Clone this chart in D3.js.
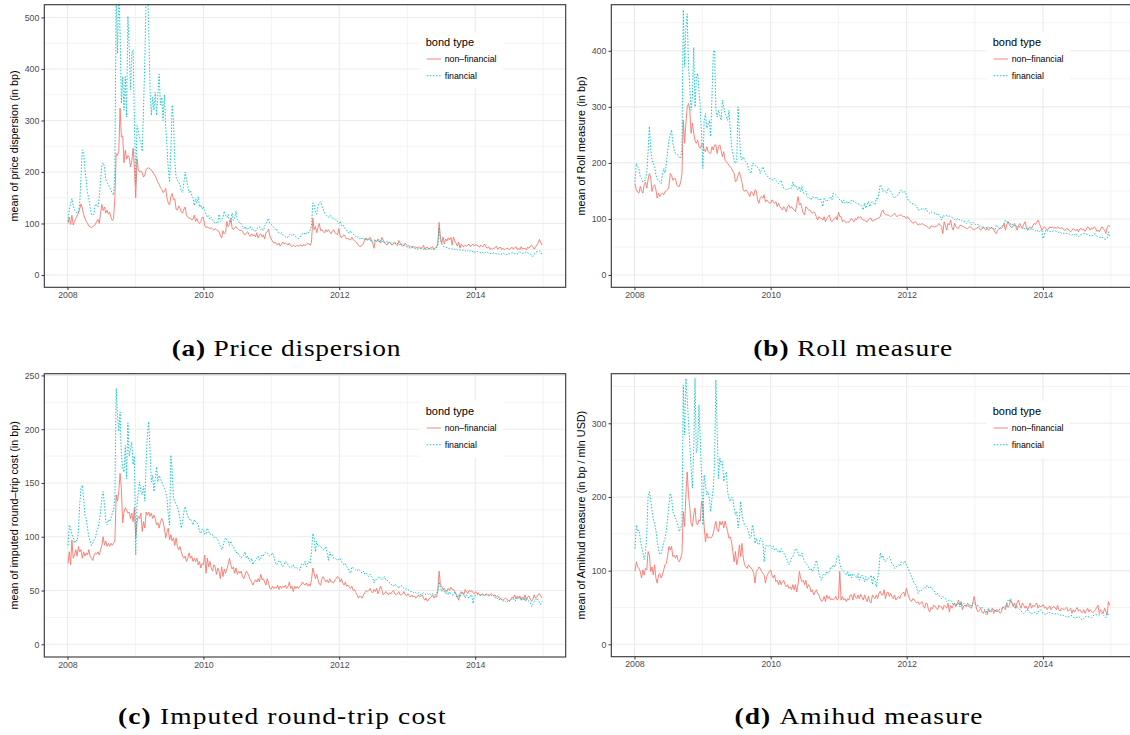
<!DOCTYPE html>
<html>
<head>
<meta charset="utf-8">
<script src="https://cdnjs.cloudflare.com/ajax/libs/d3/7.8.5/d3.min.js"></script>
<style>
  html, body { margin: 0; padding: 0; background: #ffffff; }
  svg { display: block; }
</style>
</head>
<body>
<svg id="chart" width="1130" height="735"></svg>
<script>
// ---------------------------------------------------------------------------
// Weekly liquidity measures of US corporate bonds, 2008-2014, by bond type.
// One value per week, starting with the week ending 4 January 2008.
// ---------------------------------------------------------------------------
const firstWeek = new Date(2008, 0, 4);
const bondTypes = ["non\u2013financial", "financial"];

// (a) price dispersion, bp
const priceDispNonFin = [
  100,112,98,116,97,104,110,115,120,128,138,130,118,110,104,100,95,93,92,94,96,98,104,108,100,120,137,125,132,120,126,118,122,112,106,110,150,236,232,240,324,268,270,218,242,225,232,228,210,222,246,208,
  150,226,204,200,202,198,190,194,205,207,208,206,204,200,196,192,186,180,176,170,166,160,162,168,150,140,136,152,158,146,148,128,126,134,130,122,120,128,132,116,112,110,110,107,108,116,104,110,102,100,104,112,
  112,96,92,94,91,90,92,89,87,90,88,86,84,76,72,86,80,82,104,94,98,110,92,88,92,94,90,88,86,87,85,80,78,82,84,78,75,80,76,78,74,82,72,78,80,74,78,70,82,84,89,76,
  70,66,62,64,60,58,62,56,60,64,60,62,60,58,62,57,55,58,56,55,58,56,58,58,56,60,57,59,62,60,58,64,110,88,94,82,92,100,86,88,84,82,88,84,88,84,80,85,88,82,80,78,
  90,76,72,76,78,74,70,71,69,68,73,69,66,64,62,58,55,56,58,62,70,72,68,70,73,66,62,52,68,65,70,66,62,73,68,62,60,58,64,63,60,58,61,63,59,57,67,62,58,56,58,62,
  58,56,57,54,55,56,53,55,52,54,54,52,53,58,50,53,54,50,52,53,55,50,52,55,60,102,72,61,74,60,70,66,72,68,73,58,74,66,62,56,64,52,60,56,55,58,56,58,60,55,58,60,
  56,59,58,56,54,58,55,56,60,54,52,55,50,52,50,52,53,56,50,53,54,49,52,49,50,52,51,49,52,54,50,53,55,49,52,49,55,50,52,51,49,54,52,56,58,55,50,54,58,62,69,64,58
];
const priceDispFin = [
  104,128,138,148,135,126,124,120,122,140,190,243,240,205,182,160,148,130,117,116,120,138,136,132,150,184,212,218,210,186,180,174,170,165,158,155,200,560,430,560,470,333,385,320,385,307,502,440,360,430,437,300,
  176,290,280,265,255,240,320,420,540,560,480,360,310,345,320,355,310,350,390,330,345,300,350,290,250,205,180,240,330,300,220,190,184,180,175,162,160,180,200,185,172,160,164,155,150,135,148,140,152,132,136,128,
  133,125,118,112,115,108,112,106,104,100,102,100,118,104,108,112,124,116,112,118,104,102,120,106,110,124,108,104,100,100,95,90,94,88,92,90,94,88,90,86,84,90,92,94,88,90,86,94,100,105,110,100,
  98,96,92,88,90,84,82,80,82,78,76,74,72,74,78,80,77,80,76,74,72,71,73,76,80,78,82,80,84,82,88,96,140,136,122,118,134,140,142,134,128,120,116,114,112,116,114,110,110,108,106,104,
  100,104,96,98,92,90,86,84,80,86,82,80,76,75,72,74,70,73,69,72,68,71,67,70,66,69,65,68,67,65,68,64,67,63,66,64,62,65,61,64,63,60,62,64,60,61,62,58,61,57,58,56,
  55,54,53,52,53,54,52,51,50,51,52,51,52,50,51,49,50,51,52,50,51,49,51,53,58,92,68,60,56,55,53,54,52,51,50,51,49,50,51,49,50,48,49,48,49,47,46,48,45,47,48,44,
  45,44,46,45,44,43,45,42,43,45,44,42,41,43,42,43,42,41,42,40,39,41,43,41,39,40,42,41,42,43,43,41,42,41,43,45,43,42,42,44,45,43,42,40,37,36,40,44,45,46,47,44,39
];

// (b) Roll measure, bp
const rollNonFin = [
  163,152,148,146,158,150,146,161,166,155,170,181,175,149,158,161,152,137,146,140,144,146,143,149,150,152,158,181,178,169,172,172,161,158,158,166,181,276,235,271,300,306,294,253,271,253,240,235,241,229,226,232,
  235,223,220,229,220,218,217,229,223,232,232,217,229,232,222,211,220,205,202,199,196,193,190,185,181,166,169,178,184,175,165,152,149,152,149,145,140,149,146,141,152,150,134,128,138,140,137,143,130,134,131,128,
  128,134,130,128,131,122,128,122,119,116,122,118,113,122,125,119,122,118,116,113,126,140,125,128,119,110,107,122,119,116,116,113,110,113,110,104,98,104,101,101,98,104,95,101,104,107,98,95,98,101,104,98,
  112,104,104,95,98,95,93,95,94,98,101,97,95,101,99,104,102,104,100,98,98,96,95,99,101,101,96,98,98,100,101,102,104,112,116,110,108,107,107,106,104,106,108,110,106,104,106,107,107,105,104,104,
  101,104,100,98,95,92,94,95,92,89,91,90,92,90,89,88,86,84,83,88,87,86,86,87,88,92,89,86,74,95,88,80,92,89,98,85,80,92,86,84,83,88,89,87,86,85,83,83,85,86,84,82,
  80,82,83,86,84,80,82,86,82,80,84,80,82,85,84,80,76,74,80,82,84,83,86,92,80,90,95,90,86,84,88,92,86,80,88,92,86,84,90,95,86,80,84,86,83,88,92,90,94,98,92,86,
  80,84,86,83,80,82,86,84,86,83,85,83,86,84,83,85,82,80,80,83,82,79,77,80,83,80,79,82,77,82,83,80,82,78,81,86,84,80,84,82,86,84,78,80,77,82,86,83,80,74,84,89,86
];
const rollFin = [
  166,199,193,190,175,172,166,168,169,180,220,265,225,205,199,195,178,172,168,166,163,180,190,182,199,220,240,250,259,235,223,217,217,212,210,208,225,473,372,440,466,372,336,294,318,406,300,350,360,330,300,250,
  190,276,288,262,268,276,247,318,398,401,294,282,294,285,276,312,300,288,282,276,294,260,230,215,205,199,205,300,253,211,205,211,205,202,199,190,184,181,199,199,196,193,192,190,181,188,193,187,181,178,175,172,
  172,170,169,172,169,166,163,166,169,160,155,155,152,152,155,155,155,166,158,161,155,152,158,149,158,146,146,149,140,137,137,134,140,137,137,140,136,134,137,131,122,137,134,131,134,137,140,134,146,146,143,140,
  137,134,134,128,134,128,131,127,131,128,134,132,131,129,128,127,126,125,122,116,128,119,125,131,122,128,131,128,125,137,134,146,161,158,149,152,150,146,155,152,149,145,140,137,140,142,143,149,152,148,146,149,
  143,136,132,130,128,127,126,125,122,116,116,117,118,119,116,119,114,112,110,113,111,111,110,107,110,106,104,98,106,105,106,106,104,105,104,103,101,99,98,100,101,98,96,98,96,95,92,96,97,93,89,94,
  92,90,89,91,87,88,85,86,83,85,84,86,83,84,85,83,80,89,86,83,84,86,89,92,98,96,92,95,89,90,91,88,86,87,85,86,84,83,85,81,83,80,82,83,80,82,81,79,81,78,77,80,
  79,65,72,80,78,80,78,77,78,79,79,78,77,76,77,74,75,74,75,74,74,73,71,71,73,72,74,70,68,71,72,73,74,74,73,72,71,70,69,71,73,73,70,68,67,67,68,65,64,64,66,77,67
];

// (c) imputed round-trip cost, bp
const imputedNonFin = [
  75,86,74,97,80,83,88,82,91,86,88,80,86,82,85,83,88,82,80,78,83,85,84,86,83,88,92,100,92,96,91,94,91,94,92,94,96,139,133,142,159,145,113,123,127,125,122,123,117,122,114,127,
  99,114,119,117,122,105,114,108,123,120,123,119,122,117,120,117,111,113,108,114,117,114,108,99,104,108,97,102,96,99,92,99,91,88,91,86,82,80,82,77,80,85,80,82,77,80,77,80,74,77,71,75,
  74,83,66,80,72,77,71,68,74,72,65,71,68,61,72,63,70,66,70,74,80,74,70,72,66,71,65,68,66,68,63,61,65,68,66,63,60,58,55,58,60,58,61,58,65,60,61,58,55,61,57,52,
  51,54,52,53,52,55,51,54,52,54,53,55,52,54,58,52,54,49,54,52,54,52,54,55,58,56,55,57,54,56,54,60,71,66,61,65,60,56,55,61,63,60,58,60,57,61,58,58,57,60,61,63,
  62,58,61,57,55,58,54,55,53,52,54,50,51,48,46,43,45,44,43,46,48,50,49,50,52,49,48,51,49,52,47,50,54,51,46,47,49,48,46,48,47,49,50,47,46,47,49,46,46,47,49,46,
  45,47,45,44,46,44,45,43,44,46,44,45,46,43,41,43,40,42,43,44,46,43,45,44,50,68,55,54,51,52,49,50,52,50,53,51,51,49,47,44,41,47,49,47,46,51,49,47,50,49,50,48,
  47,49,47,48,46,45,47,46,45,47,46,45,46,47,46,45,46,44,45,43,43,42,41,42,43,42,41,40,42,44,43,46,42,45,43,45,41,44,42,46,41,44,45,42,40,42,46,43,44,46,47,45,43
];
const imputedFin = [
  92,111,108,102,99,94,97,96,105,130,145,148,136,120,117,108,100,96,92,94,97,99,105,108,114,123,136,142,130,114,111,116,114,117,122,125,136,238,213,198,216,176,164,160,185,154,206,175,182,188,167,175,
  83,130,142,151,142,139,147,133,170,195,207,180,151,157,142,154,165,151,157,154,151,148,145,142,136,120,111,176,160,136,133,130,128,123,117,108,114,123,128,123,119,116,117,114,111,116,114,113,111,105,103,107,
  107,102,103,108,105,102,103,102,99,100,99,97,94,91,88,91,96,99,97,96,92,96,92,91,88,85,86,83,82,80,82,83,86,80,82,78,77,80,74,77,78,80,82,78,80,83,82,85,86,85,83,82,
  83,85,82,77,74,75,78,77,74,72,74,77,75,74,72,71,72,74,71,72,71,70,69,74,75,74,77,72,75,77,75,86,103,99,86,96,91,92,91,89,88,88,91,85,78,86,82,83,80,80,79,78,
  79,80,77,75,74,75,72,71,68,66,72,71,70,69,68,70,69,67,66,68,65,66,64,63,65,63,62,57,61,60,62,63,61,60,61,63,60,60,58,57,56,55,54,56,55,54,52,54,55,53,52,51,
  52,51,50,49,49,48,49,48,47,48,47,46,47,48,47,46,47,46,47,46,47,46,46,47,50,58,53,49,52,49,47,50,46,49,47,46,46,49,45,43,46,44,47,49,46,43,46,44,43,45,46,38,
  44,46,46,47,46,46,46,46,47,46,46,46,46,45,46,45,43,44,42,41,43,41,40,41,40,39,41,40,41,42,43,40,41,43,42,44,42,41,43,40,43,41,40,39,35,37,40,41,43,41,39,37,40
];

// (d) Amihud measure, bp per mln USD
const amihudNonFin = [
  99,112,105,103,99,90,101,94,103,101,126,121,99,105,94,108,90,83,94,96,90,94,101,108,110,120,133,128,133,119,121,117,121,114,112,117,124,180,160,203,234,203,185,164,160,176,185,164,162,169,167,194,
  189,160,139,151,144,146,144,146,151,160,167,155,153,167,162,167,158,167,160,153,144,146,139,126,112,126,108,117,135,119,137,117,108,105,103,108,105,104,101,96,83,99,101,105,103,99,96,94,83,92,96,99,
  101,94,90,94,85,87,81,87,81,85,87,81,78,81,76,78,74,81,74,81,71,81,99,90,85,87,81,87,76,81,78,71,74,67,71,74,69,67,62,58,60,65,58,67,62,65,60,62,60,62,65,60,
  62,99,60,65,60,62,58,62,60,67,67,60,69,64,62,67,62,68,64,60,67,62,58,65,58,56,67,64,62,67,62,69,72,67,67,74,62,70,71,65,69,65,62,67,60,63,65,62,67,69,71,65,
  76,70,64,60,58,62,61,58,56,58,54,56,58,53,49,56,55,47,44,50,48,53,52,49,47,53,51,51,47,53,51,49,56,44,53,49,53,56,51,56,60,53,58,47,52,53,51,56,53,50,49,56,
  65,56,47,44,46,49,44,42,46,42,40,47,44,46,49,42,47,44,47,45,42,45,51,49,47,56,50,53,60,56,51,56,49,57,60,53,49,56,53,49,52,47,51,56,49,53,51,54,56,49,53,51,
  52,54,49,51,47,50,52,47,50,51,50,47,53,47,45,49,48,47,49,50,45,47,49,42,47,44,47,50,45,47,44,43,47,42,46,49,44,47,45,43,45,47,50,53,42,47,44,42,49,45,40,58,53
];
const amihudFin = [
  130,162,153,155,144,132,125,115,124,150,200,207,196,182,170,164,155,140,128,122,123,130,139,143,155,171,190,205,200,180,176,171,167,160,153,158,162,352,284,361,334,302,270,240,212,266,361,260,266,325,280,230,
  162,230,216,203,207,198,180,198,212,248,359,289,225,253,244,248,221,230,234,207,198,194,200,198,185,176,180,158,171,194,176,167,162,160,158,153,144,146,162,153,137,144,137,135,144,142,139,112,133,135,133,135,
  133,130,133,128,130,126,128,124,130,126,124,121,117,112,108,112,117,119,124,130,128,124,119,121,124,117,112,110,108,105,101,103,99,103,108,114,108,96,90,87,94,96,94,99,96,99,105,103,108,105,110,119,
  121,110,103,101,99,96,94,99,92,96,90,96,94,92,90,96,87,92,94,90,85,92,87,90,90,94,81,92,88,78,90,101,124,117,121,114,112,115,117,119,114,110,108,103,105,107,108,106,112,111,110,113,
  108,105,100,96,92,87,83,81,76,69,73,72,74,76,78,76,80,77,76,78,75,73,71,67,69,67,64,62,65,63,62,58,60,59,60,58,53,56,54,53,57,51,56,53,56,54,52,53,51,53,51,55,
  57,54,52,53,51,49,50,49,47,46,42,49,46,44,46,47,45,47,44,46,49,48,49,51,50,56,60,58,62,56,53,50,49,51,49,47,45,44,42,44,46,47,44,43,41,43,44,42,41,44,45,47,
  44,42,41,40,42,44,43,42,42,41,41,42,42,40,40,39,40,38,38,37,37,38,39,39,37,36,36,37,38,36,34,33,35,37,38,38,37,37,36,38,40,41,40,40,40,41,42,40,38,36,42,40,42
];

// Axis ticks
const xMajorYears = [2008, 2010, 2012, 2014];
const xMinorYears = [2009, 2011, 2013, 2015];
const ticksPrice = [0, 100, 200, 300, 400, 500];
const ticksRoll = [0, 100, 200, 300, 400];
const ticksImputed = [0, 50, 100, 150, 200, 250];
const ticksAmihud = [0, 100, 200, 300];

// ---------------------------------------------------------------------------
// Page layout of the four panels
// ---------------------------------------------------------------------------
const panels = [
  { box: { l: 44.3, t: 4.7, r: 565.7, b: 287.3 }, yLim: [-23.9, 524.8], ticks: ticksPrice,
    yTitle: "mean of price dispersion (in bp)", nonFin: priceDispNonFin, fin: priceDispFin,
    tag: "(a)", caption: "Price dispersion", capX: [171.7, 400.7], capY: 356 },
  { box: { l: 611.3, t: 4.7, r: 1133.5, b: 287.3 }, yLim: [-22, 482.3], ticks: ticksRoll,
    yTitle: "mean of Roll measure (in bp)", nonFin: rollNonFin, fin: rollFin,
    tag: "(b)", caption: "Roll measure", capX: [753.3, 952.3], capY: 356 },
  { box: { l: 44.3, t: 373.7, r: 565.7, b: 657 }, yLim: [-11.8, 251.6], ticks: ticksImputed,
    yTitle: "mean of imputed round\u2013trip cost (in bp)", nonFin: imputedNonFin, fin: imputedFin,
    tag: "(c)", caption: "Imputed round-trip cost", capX: [118, 446], capY: 724.5 },
  { box: { l: 611.3, t: 373.7, r: 1133.5, b: 656.7 }, yLim: [-16.8, 367.3], ticks: ticksAmihud,
    yTitle: "mean of Amihud measure (in bp / mln USD)", nonFin: amihudNonFin, fin: amihudFin,
    tag: "(d)", caption: "Amihud measure", capX: [734.4, 982.7], capY: 724.5 }
];

const colNonFin = "#F8766D";
const colFin = "#00BFC4";
const sans = "'Liberation Sans', Arial, Helvetica, sans-serif";
const serif = "'Liberation Serif', 'Times New Roman', serif";

const svg = d3.select("#chart");

panels.forEach((p, k) => {
  const { l, t, r, b } = p.box;
  const n = p.nonFin.length;
  const dates = d3.range(n).map(i => d3.timeDay.offset(firstWeek, 7 * i));

  // 5 % expansion on both sides of the date range
  const [d0, d1] = d3.extent(dates);
  const pad = (d1 - d0) * 0.05;
  const x = d3.scaleTime().domain([new Date(+d0 - pad), new Date(+d1 + pad)]).range([l, r]);
  const y = d3.scaleLinear().domain(p.yLim).range([b, t]);

  const g = svg.append("g");

  // panel background
  g.append("rect").attr("x", l).attr("y", t).attr("width", r - l).attr("height", b - t).attr("fill", "#ffffff");

  // grid: minor lines halfway between the major ones
  const step = p.ticks[1] - p.ticks[0];
  const yMinor = d3.range(p.ticks[0] + step / 2, p.yLim[1], step);
  const grid = g.append("g").attr("stroke", "#EBEBEB");
  grid.selectAll("line.ymin").data(yMinor).join("line")
    .attr("x1", l).attr("x2", r).attr("y1", d => y(d)).attr("y2", d => y(d)).attr("stroke-width", 0.6);
  grid.selectAll("line.xmin").data(xMinorYears).join("line")
    .attr("x1", d => x(new Date(d, 0, 1))).attr("x2", d => x(new Date(d, 0, 1)))
    .attr("y1", t).attr("y2", b).attr("stroke-width", 0.6);
  grid.selectAll("line.ymaj").data(p.ticks).join("line")
    .attr("x1", l).attr("x2", r).attr("y1", d => y(d)).attr("y2", d => y(d)).attr("stroke-width", 1.1);
  grid.selectAll("line.xmaj").data(xMajorYears).join("line")
    .attr("x1", d => x(new Date(d, 0, 1))).attr("x2", d => x(new Date(d, 0, 1)))
    .attr("y1", t).attr("y2", b).attr("stroke-width", 1.1);

  // lines, clipped to the panel
  const clipId = "clip" + k;
  svg.append("clipPath").attr("id", clipId).append("rect")
    .attr("x", l).attr("y", t).attr("width", r - l).attr("height", b - t);
  const line = d3.line().x((d, i) => x(dates[i])).y(d => y(d));
  const lines = g.append("g").attr("clip-path", `url(#${clipId})`).attr("fill", "none");
  lines.append("path").datum(p.nonFin).attr("d", line)
    .attr("stroke", colNonFin).attr("stroke-width", 0.9).attr("stroke-linejoin", "round");
  lines.append("path").datum(p.fin).attr("d", line)
    .attr("stroke", colFin).attr("stroke-width", 0.9).attr("stroke-dasharray", "1.5,1.6");

  // legend
  const lg = g.append("g");
  lg.append("rect").attr("x", l + 375.7).attr("y", t + 27).attr("width", 83).attr("height", 57).attr("fill", "#ffffff");
  lg.append("text").attr("x", l + 381.4).attr("y", t + 41.5).attr("font-family", sans).attr("font-size", 11)
    .attr("fill", "#000").text("bond type");
  bondTypes.forEach((name, j) => {
    const ly = t + 54.3 + j * 16.7;
    lg.append("line").attr("x1", l + 382.4).attr("x2", l + 396.7).attr("y1", ly).attr("y2", ly)
      .attr("stroke", j === 0 ? colNonFin : colFin).attr("stroke-width", 0.9)
      .attr("stroke-dasharray", j === 0 ? null : "1.5,1.6");
    lg.append("text").attr("x", l + 400.4).attr("y", ly + 3.1).attr("font-family", sans).attr("font-size", 8.8)
      .attr("fill", "#000").text(name);
  });

  // panel border
  g.append("rect").attr("x", l).attr("y", t).attr("width", r - l).attr("height", b - t)
    .attr("fill", "none").attr("stroke", "#333333").attr("stroke-width", 1.1);

  // axes
  const xAxis = d3.axisBottom(x).tickValues(xMajorYears.map(v => new Date(v, 0, 1)))
    .tickFormat(d3.timeFormat("%Y")).tickSize(2.75).tickPadding(2);
  const gx = g.append("g").attr("transform", `translate(0,${b})`).call(xAxis);
  const yAxis = d3.axisLeft(y).tickValues(p.ticks).tickSize(2.75).tickPadding(2.2);
  const gy = g.append("g").attr("transform", `translate(${l},0)`).call(yAxis);
  [gx, gy].forEach(ax => {
    ax.select(".domain").remove();
    ax.selectAll(".tick line").attr("stroke", "#333333").attr("stroke-width", 1);
    ax.selectAll(".tick text").attr("fill", "#4D4D4D").attr("font-family", sans).attr("font-size", 8.8);
  });
  gx.selectAll(".tick text").attr("dy", null).attr("y", 10.8);

  // y-axis title
  g.append("text")
    .attr("transform", `translate(${l - 26.3},${(t + b) / 2}) rotate(-90)`)
    .attr("text-anchor", "middle").attr("font-family", sans).attr("font-size", 10.8).attr("fill", "#000")
    .text(p.yTitle);

  // sub-figure caption, widened to the span it occupies on the page
  const cap = svg.append("text").attr("x", p.capX[0]).attr("y", p.capY)
    .attr("font-family", serif).attr("font-size", 22.5).attr("fill", "#000");
  cap.append("tspan").attr("font-weight", "bold").text(p.tag);
  cap.append("tspan").text("\u00a0" + p.caption);
  const target = p.capX[1] - p.capX[0];
  const stretch = 1.22;
  const natural = cap.node().getComputedTextLength();
  const chars = (p.tag + " " + p.caption).length;
  const spacing = Math.max(0, (target / stretch - natural) / (chars - 1));
  cap.attr("letter-spacing", spacing)
     .attr("transform", `translate(${p.capX[0]},0) scale(${stretch},1) translate(${-p.capX[0]},0)`);
});
</script>
</body>
</html>
